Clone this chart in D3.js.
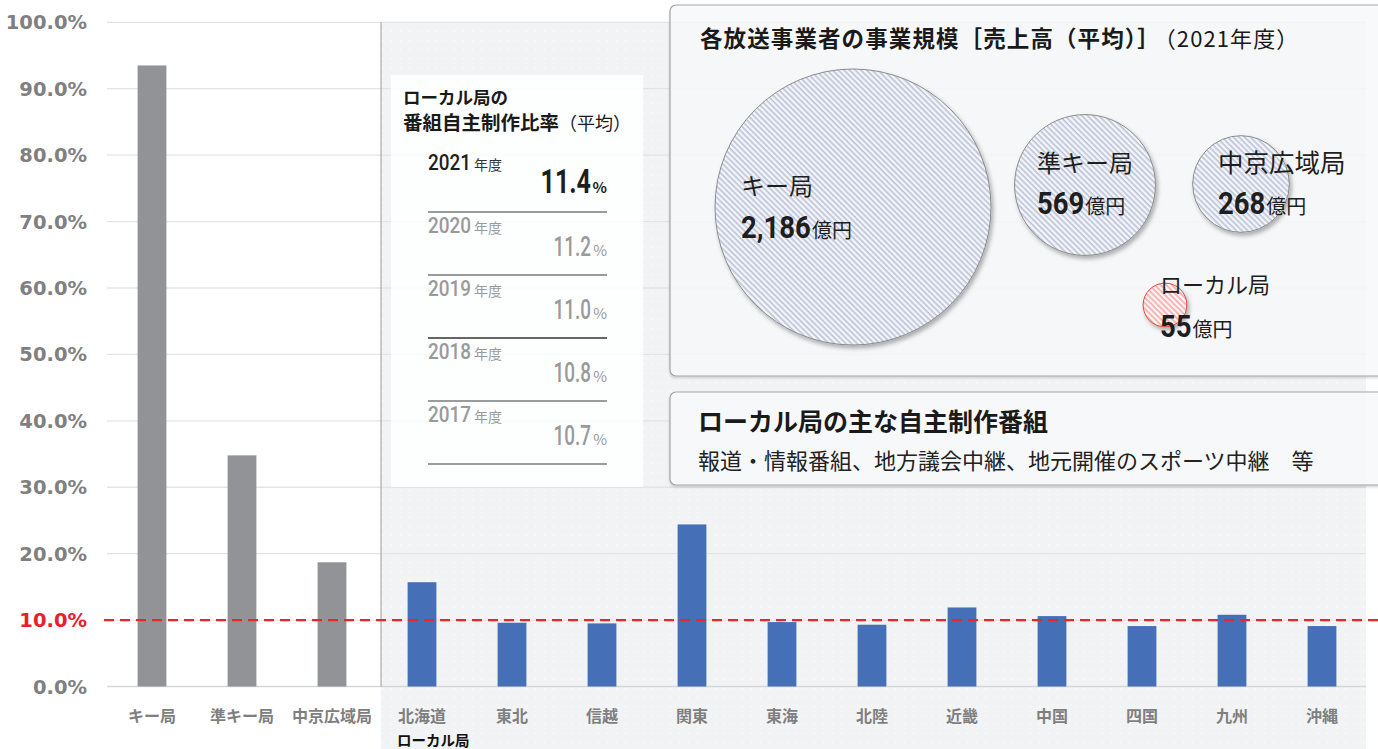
<!DOCTYPE html>
<html><head><meta charset="utf-8">
<script src="https://cdn.jsdelivr.net/npm/d3@7"></script>
<style>
html,body{margin:0;padding:0;background:#fff;}
svg{display:block;font-family:"Noto Sans CJK JP","Noto Sans",sans-serif;}
</style></head><body>
<svg id="c" width="1378" height="749"></svg>
<script>
// ---------- data ----------
const categories = ["キー局","準キー局","中京広域局","北海道","東北","信越","関東","東海","北陸","近畿","中国","四国","九州","沖縄"];
const ratios = [0.935,0.348,0.187,0.157,0.096,0.095,0.244,0.097,0.093,0.119,0.106,0.091,0.108,0.091];
const groups = ["key","key","key","local","local","local","local","local","local","local","local","local","local","local"];
const yTicks = [0,0.1,0.2,0.3,0.4,0.5,0.6,0.7,0.8,0.9,1.0];
const refLine = 0.1;
const years = ["2021","2020","2019","2018","2017"];
const localAvg = [11.4,11.2,11.0,10.8,10.7];
const bubbleNames = ["キー局","準キー局","中京広域局","ローカル局"];
const sales = [2186,569,268,55];

// ---------- layout ----------
const W = 1378, H = 749;
const svg = d3.select("#c");
const y = d3.scaleLinear().domain([0,1]).range([686.5,22.3]);
const x = d3.scaleBand().domain(categories).range([107,1367]).paddingInner(0.68).paddingOuter(0.34);
const numFont = "Roboto,'Liberation Sans',sans-serif";
const jp = "'Noto Sans CJK JP','Noto Sans',sans-serif";

const defs = svg.append("defs");
const dots = defs.append("pattern").attr("id","dots").attr("width",9).attr("height",9).attr("patternUnits","userSpaceOnUse");
dots.append("rect").attr("width",9).attr("height",9).attr("fill","#f2f3f5");
dots.append("circle").attr("cx",4.5).attr("cy",4.5).attr("r",0.8).attr("fill","#fcfcfd");
function hatch(id,bg,fg){
  const p = defs.append("pattern").attr("id",id).attr("width",4).attr("height",4)
    .attr("patternUnits","userSpaceOnUse").attr("patternTransform","rotate(45)");
  p.append("rect").attr("width",4).attr("height",4).attr("fill",bg);
  p.append("rect").attr("width",4).attr("height",1.6).attr("fill",fg);
}
hatch("hBlue","#f4f5f9","#b9c2d8");
hatch("hRed","#fff4f4","#f2a9a9");
const f1 = defs.append("filter").attr("id","shadow").attr("x","-20%").attr("y","-20%").attr("width","140%").attr("height","140%");
f1.append("feDropShadow").attr("dx",2).attr("dy",3).attr("stdDeviation",2).attr("flood-color","#000").attr("flood-opacity",0.3);
const f2 = defs.append("filter").attr("id","boxshadow").attr("x","-5%").attr("y","-5%").attr("width","110%").attr("height","115%");
f2.append("feDropShadow").attr("dx",0).attr("dy",1.5).attr("stdDeviation",1.2).attr("flood-color","#000").attr("flood-opacity",0.18);

// local background region
svg.append("rect").attr("x",381).attr("y",22).attr("width",1366-381).attr("height",H-22).attr("fill","url(#dots)");

// gridlines
svg.append("g").selectAll("line").data(yTicks).join("line")
  .attr("x1",107).attr("x2",1366).attr("y1",d=>y(d)).attr("y2",d=>y(d))
  .attr("stroke",d=>d===0?"#d6d6d8":"#e4e4e6").attr("stroke-width",1.3);

// y labels
svg.append("g").selectAll("text").data(yTicks).join("text")
  .attr("x",87).attr("y",d=>y(d)).attr("dy","0.36em").attr("text-anchor","end")
  .attr("font-family","'DejaVu Sans',Verdana,sans-serif").attr("font-weight","bold").attr("font-size",19.5)
  .attr("fill",d=>d===refLine?"#e8202a":"#808080")
  .text(d=>d3.format(".1%")(d));

// separator
svg.append("line").attr("x1",381).attr("x2",381).attr("y1",y(1)).attr("y2",y(0)).attr("stroke","#9a9a9a").attr("stroke-width",1);

// bars
svg.append("g").selectAll("rect").data(categories).join("rect")
  .attr("x",d=>x(d)).attr("width",x.bandwidth())
  .attr("y",(d,i)=>y(ratios[i])).attr("height",(d,i)=>y(0)-y(ratios[i]))
  .attr("fill",(d,i)=>groups[i]==="key"?"#929397":"#4570b8");

// reference line
svg.append("line").attr("x1",104).attr("x2",W).attr("y1",y(refLine)).attr("y2",y(refLine))
  .attr("stroke","#e8262d").attr("stroke-width",2.4).attr("stroke-dasharray","10,6");

// x labels
svg.append("g").selectAll("text").data(categories).join("text")
  .attr("x",d=>x(d)+x.bandwidth()/2).attr("y",716).attr("dy","0.36em").attr("text-anchor","middle")
  .attr("font-family",jp).attr("font-weight","bold").attr("font-size",16).attr("fill","#7f7f7f")
  .text(d=>d);
svg.append("text").attr("x",397).attr("y",741).attr("dy","0.36em").attr("font-family",jp)
  .attr("font-weight","bold").attr("font-size",14.5).attr("fill","#111").text("ローカル局");

// ---------- inset: local average ratio ----------
const ins = svg.append("g");
ins.append("rect").attr("x",391).attr("y",75).attr("width",252).attr("height",412).attr("fill","#fff").attr("fill-opacity",0.86);
ins.append("text").attr("x",403).attr("y",104).attr("font-family",jp).attr("font-weight","bold").attr("font-size",17.5).attr("fill","#1a1a1a").text("ローカル局の");
const t2 = ins.append("text").attr("x",403).attr("y",130).attr("font-family",jp).attr("font-size",19.5).attr("fill","#1a1a1a");
t2.append("tspan").attr("font-weight","bold").text("番組自主制作比率");
t2.append("tspan").attr("font-weight","normal").attr("font-size",18).text("（平均）");

function condensed(parent, xx, yy, str, size, weight, fill, sx, anchor){
  const g = parent.append("g").attr("transform",`translate(${xx},${yy}) scale(${sx},1)`);
  const t = g.append("text").attr("text-anchor",anchor).attr("font-family",numFont)
    .attr("font-weight",weight).attr("font-size",size).attr("fill",fill).text(str);
  return t.node().getComputedTextLength()*sx;
}
years.forEach((yr,i)=>{
  const by = 170 + 63*i;
  const first = i===0;
  const col = first ? "#1e1e1e" : "#9a9a9a";
  const w = condensed(ins, 428, by, yr, 22, 500, col, 0.86, "start");
  ins.append("text").attr("x",428+w+3).attr("y",by).attr("font-family",jp).attr("font-size",14).attr("fill",first?"#333":"#9a9a9a").text("年度");
  ins.append("text").attr("x",607).attr("y",by+23).attr("text-anchor","end").attr("font-family",jp)
    .attr("font-size",15).attr("font-weight",first?"bold":"normal").attr("fill",col).text("%");
  condensed(ins, 591, by+23, d3.format(".1f")(localAvg[i]), first?33:27, first?"bold":500, col, first?0.76:0.7, "end");
  ins.append("line").attr("x1",428).attr("x2",607).attr("y1",by+42).attr("y2",by+42)
    .attr("stroke",i===2?"#333":"#7a7a7a").attr("stroke-width",1.5);
});

// ---------- bubble panel ----------
const bp = svg.append("g");
bp.append("rect").attr("x",670).attr("y",5).attr("width",740).attr("height",371).attr("rx",6)
  .attr("fill","#fafbfc").attr("fill-opacity",0.8).attr("stroke","#a5a5a5").attr("stroke-width",1.2).attr("filter","url(#boxshadow)");
const tt = bp.append("text").attr("x",700).attr("y",47).attr("font-family",jp).attr("font-size",22.5).attr("letter-spacing",1.1).attr("fill","#1a1a1a");
tt.append("tspan").attr("font-weight","bold").text("各放送事業者の事業規模［売上高（平均）］");
tt.append("tspan").attr("font-weight","normal").attr("font-size",22).attr("dx",4).text("（2021年度）");

const r = d3.scaleSqrt().domain([0,2186]).range([0,138]);
const centers = [[853,207],[1085,185],[1241,184],[1165,305]];
const labelPos = [[741,195,238],[1037,172,214],[1218,172,214],[1160,293,337]];
const labelSize = [24,24,25.5,22];
bp.append("g").selectAll("circle").data(sales).join("circle")
  .attr("cx",(d,i)=>centers[i][0]).attr("cy",(d,i)=>centers[i][1]).attr("r",d=>r(d))
  .attr("fill",(d,i)=>i===3?"url(#hRed)":"url(#hBlue)")
  .attr("stroke",(d,i)=>i===3?"#e8453c":"#8c8c8c").attr("stroke-width",1)
  .attr("filter","url(#shadow)");
bubbleNames.forEach((nm,i)=>{
  const [lx,ly1,ly2] = labelPos[i];
  bp.append("text").attr("x",lx).attr("y",ly1).attr("font-family",jp).attr("font-size",labelSize[i]).attr("fill","#1e1e1e").text(nm);
  const w = condensed(bp, lx, ly2, d3.format(",")(sales[i]), 32, "bold", "#1e1e1e", 0.86, "start");
  bp.append("text").attr("x",lx+w+1).attr("y",ly2).attr("font-family",jp).attr("font-size",20).attr("fill","#1e1e1e").text("億円");
});

// ---------- text box ----------
const tb = svg.append("g");
tb.append("rect").attr("x",670).attr("y",392).attr("width",740).attr("height",93).attr("rx",6)
  .attr("fill","#fafbfc").attr("fill-opacity",0.9).attr("stroke","#a5a5a5").attr("stroke-width",1.2).attr("filter","url(#boxshadow)");
tb.append("text").attr("x",698).attr("y",431).attr("font-family",jp).attr("font-weight","bold").attr("font-size",25).attr("fill","#1a1a1a").text("ローカル局の主な自主制作番組");
tb.append("text").attr("x",698).attr("y",469).attr("font-family",jp).attr("font-size",22).attr("fill","#222").text("報道・情報番組、地方議会中継、地元開催のスポーツ中継　等");
</script></body></html>
